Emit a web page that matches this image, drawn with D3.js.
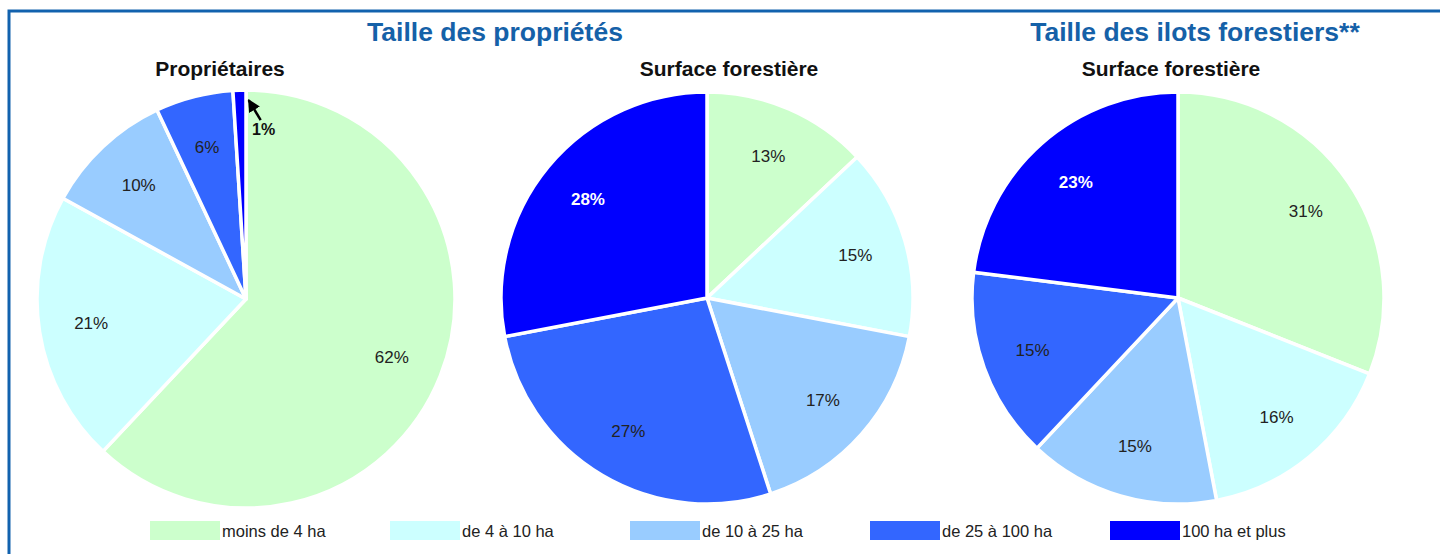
<!DOCTYPE html>
<html>
<head>
<meta charset="utf-8">
<script src="https://cdn.jsdelivr.net/npm/d3@7"></script>
<style>
  body { margin: 0; background: #fff; }
  svg { display: block; font-family: "Liberation Sans", Arial, sans-serif; }
</style>
</head>
<body>
<div id="chart"></div>
<script>
// categories shared by the three pies
var categories = ["moins de 4 ha", "de 4 à 10 ha", "de 10 à 25 ha", "de 25 à 100 ha", "100 ha et plus"];
var colors = ["#ccffcc", "#ccffff", "#99ccff", "#3366ff", "#0000ff"];

// values in %
var proprietaires = [62, 21, 10, 6, 1];
var surfaceProprietes = [13, 15, 17, 27, 28];
var surfaceIlots = [31, 16, 15, 15, 23];

var W = 1440, H = 554;
var svg = d3.select("#chart").append("svg")
  .attr("width", W)
  .attr("height", H);

var defs = svg.append("defs");
defs.append("marker").attr("id", "arrow").attr("viewBox", "0 0 10 10")
  .attr("refX", 9).attr("refY", 5).attr("markerWidth", 5).attr("markerHeight", 5.5)
  .attr("markerUnits", "strokeWidth")
  .attr("orient", "auto")
  .append("path").attr("d", "M0,0 L10,5 L0,10 Z").attr("fill", "#000");

// frame (top + left edges only visible)
svg.append("path")
  .attr("d", "M9,554 L9,11 L1440,11")
  .attr("fill", "none")
  .attr("stroke", "#1262ae")
  .attr("stroke-width", 3);

// group titles
svg.append("text").attr("x", 495).attr("y", 41)
  .attr("text-anchor", "middle").attr("font-size", 26.5).attr("font-weight", "bold")
  .attr("fill", "#1561a8").text("Taille des propriétés");
svg.append("text").attr("x", 1195).attr("y", 41)
  .attr("text-anchor", "middle").attr("font-size", 26.5).attr("font-weight", "bold")
  .attr("fill", "#1561a8").text("Taille des ilots forestiers**");

var pies = [
  { title: "Propriétaires", tx: 220, cx: 246, cy: 299, r: 209, values: proprietaires },
  { title: "Surface forestière", tx: 729, cx: 707, cy: 298, r: 206, values: surfaceProprietes },
  { title: "Surface forestière", tx: 1171, cx: 1178, cy: 298, r: 206, values: surfaceIlots }
];

var pieGen = d3.pie().sort(null).value(function(d) { return d; });

pies.forEach(function(p) {
  svg.append("text").attr("x", p.tx).attr("y", 76)
    .attr("text-anchor", "middle").attr("font-size", 21).attr("font-weight", "bold")
    .attr("fill", "#111").text(p.title);

  var g = svg.append("g").attr("transform", "translate(" + p.cx + "," + p.cy + ")");
  var arc = d3.arc().innerRadius(0).outerRadius(p.r);
  var labelArc = d3.arc().innerRadius(p.r * 0.75).outerRadius(p.r * 0.75);
  var arcs = pieGen(p.values);

  g.selectAll("path.slice").data(arcs).enter().append("path")
    .attr("class", "slice")
    .attr("d", arc)
    .attr("fill", function(d, i) { return colors[i]; })
    .attr("stroke", "#fff")
    .attr("stroke-width", 3.5)
    .attr("stroke-linejoin", "round");

  g.selectAll("text.lbl").data(arcs.filter(function(d) { return d.data >= 3; })).enter().append("text")
    .attr("class", "lbl")
    .attr("transform", function(d) { var c = labelArc.centroid(d); return "translate(" + c[0] + "," + c[1] + ")"; })
    .attr("text-anchor", "middle")
    .attr("dy", "0.35em")
    .attr("font-size", 17)
    .attr("fill", function(d) { return d.index === 4 ? "#fff" : "#222"; })
    .attr("font-weight", function(d) { return d.index === 4 ? "bold" : "normal"; })
    .text(function(d) { return d.data + "%"; });

  // small slices get an outside label with arrow
  arcs.filter(function(d) { return d.data < 3; }).forEach(function(d) {
    var tip = d3.arc().innerRadius(p.r - 8).outerRadius(p.r - 8).centroid(d);
    var ax = tip[0] + 9, ay = tip[1] + 2;
    var lx = ax + 12, ly = ay + 20;
    g.append("line")
      .attr("x1", lx).attr("y1", ly).attr("x2", ax).attr("y2", ay)
      .attr("stroke", "#000").attr("stroke-width", 2.5)
      .attr("marker-end", "url(#arrow)");
    g.append("text").attr("x", lx + 3).attr("y", ly + 15)
      .attr("text-anchor", "middle").attr("font-size", 16).attr("font-weight", "bold")
      .attr("fill", "#111").text(d.data + "%");
  });
});

// legend
var legend = svg.append("g").attr("transform", "translate(150,521)");
var item = legend.selectAll("g").data(categories).enter().append("g")
  .attr("transform", function(d, i) { return "translate(" + (i * 240) + ",0)"; });
item.append("rect").attr("width", 70).attr("height", 19)
  .attr("fill", function(d, i) { return colors[i]; });
item.append("text").attr("x", 72).attr("y", 15.5)
  .attr("font-size", 16.5).attr("fill", "#222").text(function(d) { return d; });
</script>
</body>
</html>
